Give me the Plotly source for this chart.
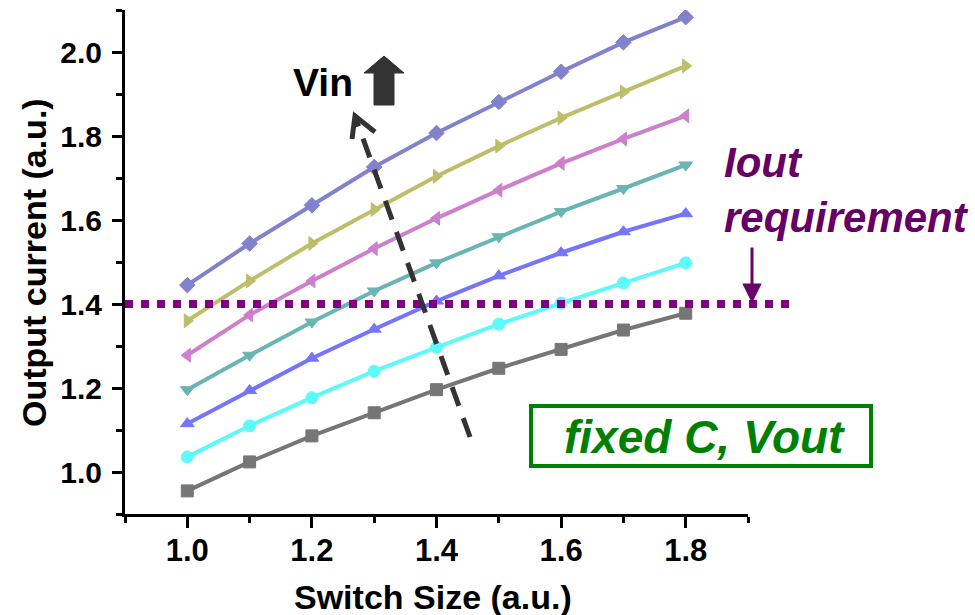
import plotly.graph_objects as go

# ---------------- data ----------------
switch_size = [1.0, 1.1, 1.2, 1.3, 1.4, 1.5, 1.6, 1.7, 1.8]

vin1 = [0.955, 1.024, 1.086, 1.141, 1.196, 1.247, 1.292, 1.338, 1.378]
vin2 = [1.036, 1.110, 1.177, 1.240, 1.297, 1.352, 1.402, 1.450, 1.498]
vin3 = [1.115, 1.194, 1.271, 1.340, 1.407, 1.467, 1.522, 1.572, 1.615]
vin4 = [1.196, 1.278, 1.357, 1.431, 1.498, 1.560, 1.620, 1.675, 1.731]
vin5 = [1.278, 1.374, 1.455, 1.532, 1.604, 1.671, 1.735, 1.793, 1.848]
vin6 = [1.360, 1.455, 1.544, 1.625, 1.704, 1.776, 1.843, 1.905, 1.967]
vin7 = [1.445, 1.544, 1.635, 1.726, 1.807, 1.881, 1.953, 2.023, 2.083]

series = [vin1, vin2, vin3, vin4, vin5, vin6, vin7]
series_names = ["Vin 1", "Vin 2", "Vin 3", "Vin 4", "Vin 5", "Vin 6", "Vin 7"]
colors = ["#767676", "#5cfafa", "#7474ff", "#6ab4b4", "#cc80cc", "#bebe6a", "#8282cc"]
symbols = ["square", "circle", "triangle-up", "triangle-down",
           "triangle-left", "triangle-right", "diamond"]

iout_requirement = 1.4
x_range = [0.9, 1.9]
y_range = [0.9, 2.1]

x_tickvals = [1.0, 1.2, 1.4, 1.6, 1.8]
x_ticktext = ["1.0", "1.2", "1.4", "1.6", "1.8"]
y_tickvals = [1.0, 1.2, 1.4, 1.6, 1.8, 2.0]
y_ticktext = ["1.0", "1.2", "1.4", "1.6", "1.8", "2.0"]

x_title = "Switch Size (a.u.)"
y_title = "Output current (a.u.)"

# ---------------- layout geometry ----------------
W, H = 975, 615
L, R, T, B = 125, 748, 10, 514   # plot area in pixels

def px(xp):
    return (xp - L) / (R - L)

def py(yp):
    return (B - yp) / (B - T)

def data_y_to_paper(v):
    return (v - y_range[0]) / (y_range[1] - y_range[0])

FONT = "Arial, 'Liberation Sans', Helvetica, sans-serif"

fig = go.Figure()
for ys, name, c, s in zip(series, series_names, colors, symbols):
    fig.add_trace(go.Scatter(
        x=switch_size, y=ys, name=name, mode="lines+markers",
        line=dict(color=c, width=4),
        marker=dict(symbol=s, size=12, color=c, line=dict(color=c, width=1)),
        showlegend=False,
    ))

shapes = []
# Iout requirement dotted line
yp_req = data_y_to_paper(iout_requirement)
shapes.append(dict(type="line", xref="paper", yref="paper",
                   x0=0, x1=px(797), y0=yp_req, y1=yp_req,
                   line=dict(color="#800080", width=8, dash="8px,8px")))
# dashed Vin arrow shaft
shapes.append(dict(type="line", xref="paper", yref="paper",
                   x0=px(470), y0=py(437), x1=px(356), y1=py(119),
                   line=dict(color="#333333", width=5, dash="20px,13px")))
# open V arrow head
shapes.append(dict(type="path", xref="paper", yref="paper",
                   path=f"M {px(352)} {py(139)} L {px(355)} {py(116)} L {px(375)} {py(132)}",
                   line=dict(color="#333333", width=5)))
# block up arrow next to Vin
pts = [(384, 56), (404, 73), (394, 73), (394, 105), (374, 105), (374, 73), (364, 73)]
path = "M " + " L ".join(f"{px(a)} {py(b)}" for a, b in pts) + " Z"
shapes.append(dict(type="path", xref="paper", yref="paper", path=path,
                   fillcolor="#333333", line=dict(color="#333333", width=1)))
# green box
shapes.append(dict(type="rect", xref="paper", yref="paper",
                   x0=px(531), x1=px(871), y0=py(406), y1=py(466),
                   line=dict(color="#008000", width=4), fillcolor="rgba(0,0,0,0)"))

annotations = [
    dict(text="<b>Vin</b>", xref="paper", yref="paper", x=px(323), y=py(82),
         showarrow=False, font=dict(family=FONT, size=39, color="#000000"),
         xanchor="center", yanchor="middle"),
    dict(text="<b><i>Iout<br>requirement</i></b>", xref="paper", yref="paper",
         x=px(722), y=py(190), showarrow=False, align="left",
         font=dict(family=FONT, size=42, color="#660066"),
         xanchor="left", yanchor="middle"),
    dict(text="<b><i>fixed C, Vout</i></b>", xref="paper", yref="paper",
         x=px(704), y=py(437), showarrow=False,
         font=dict(family=FONT, size=46, color="#008000"),
         xanchor="center", yanchor="middle"),
    dict(text="", xref="paper", yref="paper", x=px(752), y=py(303),
         ax=0, ay=-57, axref="pixel", ayref="pixel", showarrow=True,
         arrowhead=2, arrowsize=1.3, arrowwidth=3, arrowcolor="#6a006a"),
    # axis titles
    dict(text=f"<b>{x_title}</b>", xref="paper", yref="paper", x=px(433), y=py(597),
         showarrow=False, font=dict(family=FONT, size=34, color="#000000"),
         xanchor="center", yanchor="middle"),
    dict(text=f"<b>{y_title}</b>", xref="paper", yref="paper", x=px(34), y=py(263),
         showarrow=False, textangle=-90, font=dict(family=FONT, size=34, color="#000000"),
         xanchor="center", yanchor="middle"),
]

axis_common = dict(showline=True, linecolor="#000000", linewidth=3,
                   ticks="outside", tickcolor="#000000", tickwidth=3,
                   showgrid=False, zeroline=False, mirror=False, automargin=False)

fig.update_layout(
    width=W, height=H,
    margin=dict(l=L, r=W - R, t=T, b=H - B, pad=0),
    paper_bgcolor="white", plot_bgcolor="white",
    font=dict(family=FONT, color="#000000"),
    shapes=shapes, annotations=annotations,
    xaxis=dict(range=x_range, tickvals=x_tickvals, ticktext=x_ticktext,
               ticklen=11, tickfont=dict(size=31, family=FONT, weight="bold"),
               ticklabelstandoff=-4,
               minor=dict(tickvals=[0.9, 1.1, 1.3, 1.5, 1.7, 1.9], ticklen=6,
                          tickwidth=3, tickcolor="#000000", ticks="outside"),
               **axis_common),
    yaxis=dict(range=y_range, tickvals=y_tickvals, ticktext=y_ticktext,
               ticklen=10, tickfont=dict(size=30, family=FONT, weight="bold"),
               ticklabelstandoff=4,
               minor=dict(tickvals=[0.9, 1.1, 1.3, 1.5, 1.7, 1.9, 2.1], ticklen=6,
                          tickwidth=3, tickcolor="#000000", ticks="outside"),
               **axis_common),
)

fig.write_html("out.html")
